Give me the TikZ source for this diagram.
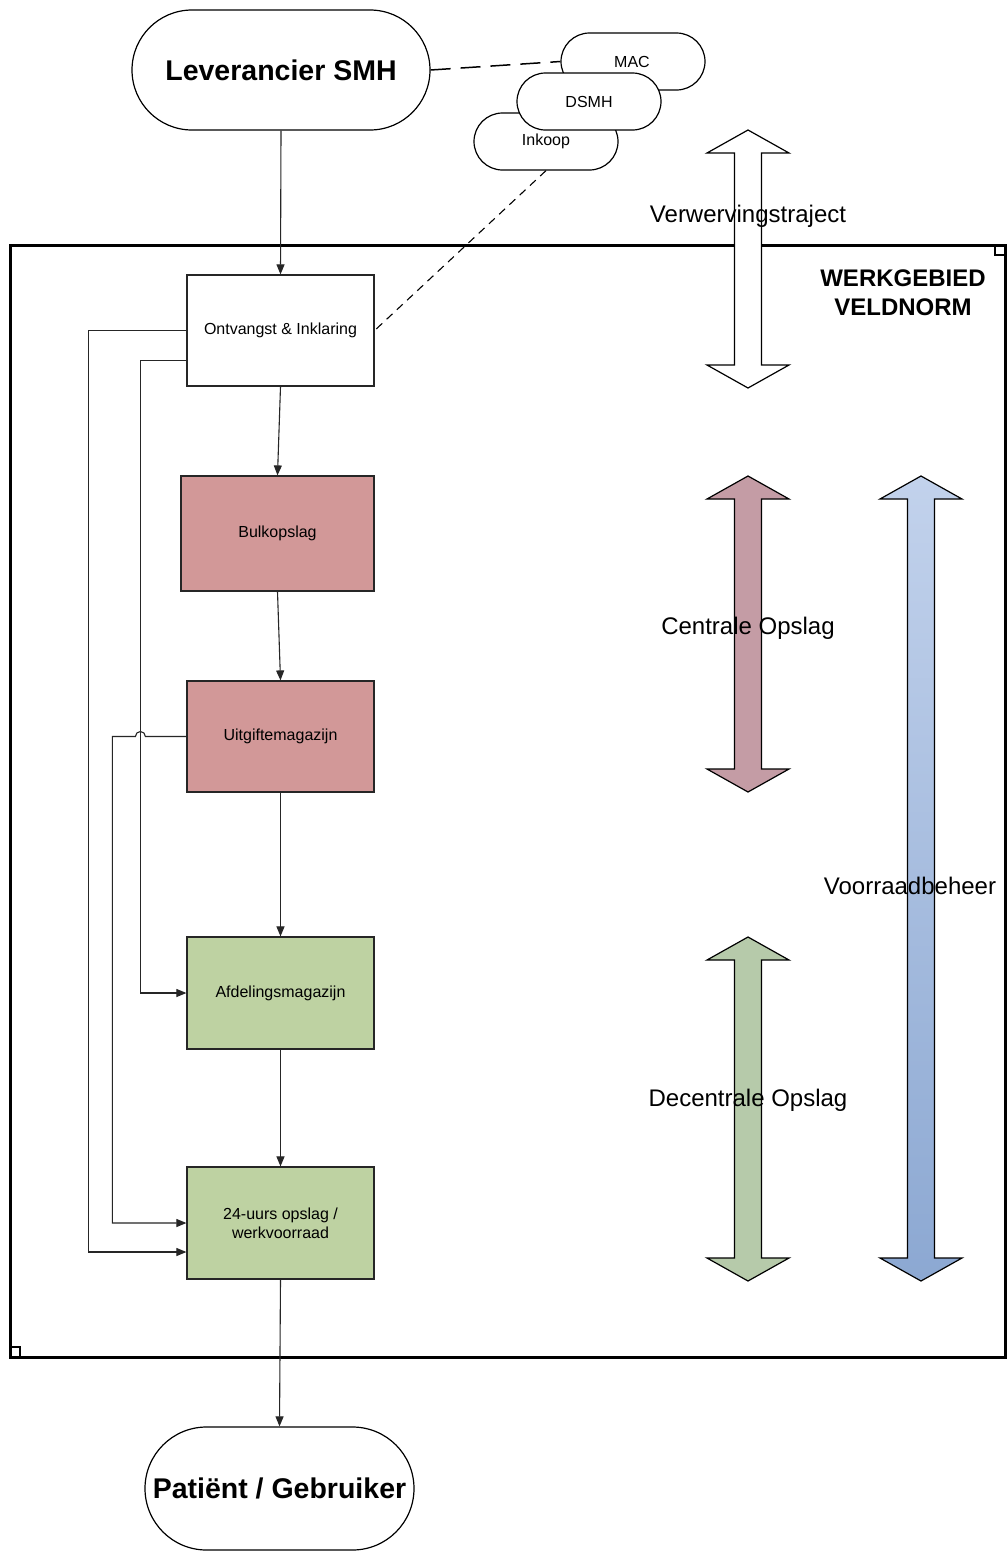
\documentclass[tikz,border=0pt]{standalone}
\usepackage{fontspec}
\setmainfont{Liberation Sans}
\usetikzlibrary{arrows.meta,calc}
\definecolor{redbox}{HTML}{D29898}
\definecolor{redarrow}{HTML}{C49CA5}
\definecolor{greenbox}{HTML}{BED2A2}
\definecolor{greenarrow}{HTML}{B6CAAA}
\definecolor{bluetop}{HTML}{C2D2EC}
\definecolor{bluebot}{HTML}{8CA8D2}
\newcommand{\dblarrowpath}[3]{%
  (#1,-#2) -- (#1+41,-#2-23) -- (#1+13.5,-#2-23) -- (#1+13.5,-#3+23) -- (#1+41,-#3+23)
  -- (#1,-#3) -- (#1-41,-#3+23) -- (#1-13.5,-#3+23) -- (#1-13.5,-#2-23) -- (#1-41,-#2-23) -- cycle}
\begin{document}
\begin{tikzpicture}[x=1pt,y=1pt,
  proc/.style={draw=black!85, line width=1.2pt, minimum width=187pt, minimum height=111pt,
     inner sep=2pt, align=center, font=\fontsize{16}{20}\selectfont},
  term/.style={draw=black, line width=1.2pt, fill=white, align=center},
  cloudbox/.style={draw=black, line width=1.2pt, fill=white, minimum width=144pt,
     minimum height=57pt, rounded corners=28.5pt, font=\fontsize{16}{19}\selectfont},
  arr/.style={draw=black!85, line width=1.1pt, -{Triangle[length=10pt,width=8pt]}},
  conn/.style={draw=black!85, line width=1.1pt},
  side/.style={font=\fontsize{24}{29}\selectfont},
  blk/.style={draw=black, line width=1.2pt}
]
\useasboundingbox (0,0) rectangle (1007,-1553);
\fill[white] (0,0) rectangle (1007,-1553);

% frame
\draw[line width=3pt] (10,-245) rectangle (1005,-1357);
\draw[line width=2.5pt] (995,-245) rectangle (1005,-255);
\draw[line width=2.5pt] (10,-1347) rectangle (20,-1357);
\node[font=\bfseries\fontsize{24}{29}\selectfont, align=center] (werk) at (903,-293) {WERKGEBIED\\VELDNORM};

% terminals
\node[term, minimum width=298pt, minimum height=120pt, rounded corners=60pt,
  font=\bfseries\fontsize{28.5}{34}\selectfont] (lev) at (281,-70) {Leverancier SMH};
\node[term, minimum width=269pt, minimum height=123pt, rounded corners=61.5pt,
  font=\bfseries\fontsize{28.5}{34}\selectfont] (pat) at (279.5,-1488.5) {Patiënt / Gebruiker};

% clouds
\node[cloudbox] (mac) at (633,-61.5) {\hspace*{-2pt}MAC};
\node[cloudbox] (ink) at (546,-141.5) {Inkoop};
\node[cloudbox] (dsmh) at (589,-101.5) {DSMH};

% process boxes
\node[proc, fill=white] (ont) at (280.5,-330.5) {Ontvangst \& Inklaring};
\node[proc, fill=redbox, minimum width=193pt, minimum height=115pt] (bulk) at (277.5,-533.5) {Bulkopslag};
\node[proc, fill=redbox] (uit) at (280.5,-736.5) {Uitgiftemagazijn};
\node[proc, fill=greenbox, minimum height=112pt] (afd) at (280.5,-993) {Afdelingsmagazijn};
\node[proc, fill=greenbox, minimum height=112pt] (h24) at (280.5,-1223) {24-uurs opslag /\\[-1pt]werkvoorraad};

% dashed links
\draw[conn, draw=black, line width=1.5pt, dash pattern=on 20pt off 10pt] (lev.east) -- (mac.west);
\draw[conn, draw=black, dash pattern=on 8pt off 6pt] (ink.south) -- (ont.east);

% main flow
\draw[arr] (lev.south) -- (ont.north);
\draw[arr] (ont.south) -- (bulk.north);
\draw[arr] (bulk.south) -- (uit.north);
\draw[arr] (uit.south) -- (afd.north);
\draw[arr] (afd.south) -- (h24.north);
\draw[arr] (h24.south) -- (pat.north);

% side connectors
\draw[arr] (ont.west) -- ++(-98,0) |- ([yshift=-29pt]h24.west);
\draw[arr] ([yshift=-30pt]ont.west) -- ++(-46,0) |- (afd.west);
\draw[arr] (uit.west) -- ++(-41,0) arc[start angle=0,end angle=180,radius=5pt] -- ++(-23,0) |- (h24.west);

% right-side block arrows
\draw[blk, fill=white] \dblarrowpath{748}{130}{388};
\draw[blk, fill=redarrow] \dblarrowpath{748}{476}{792};
\draw[blk, fill=greenarrow] \dblarrowpath{748}{937}{1281};
\draw[blk, top color=bluetop, bottom color=bluebot] \dblarrowpath{921}{476}{1281};

\node[side] (verw) at (748,-216) {Verwervingstraject};
\node[side] (cent) at (748,-628) {Centrale Opslag};
\node[side] (dec) at (748,-1100) {Decentrale Opslag};
\node[side] (voor) at (910,-886) {Voorraadbeheer};
\end{tikzpicture}
\end{document}
